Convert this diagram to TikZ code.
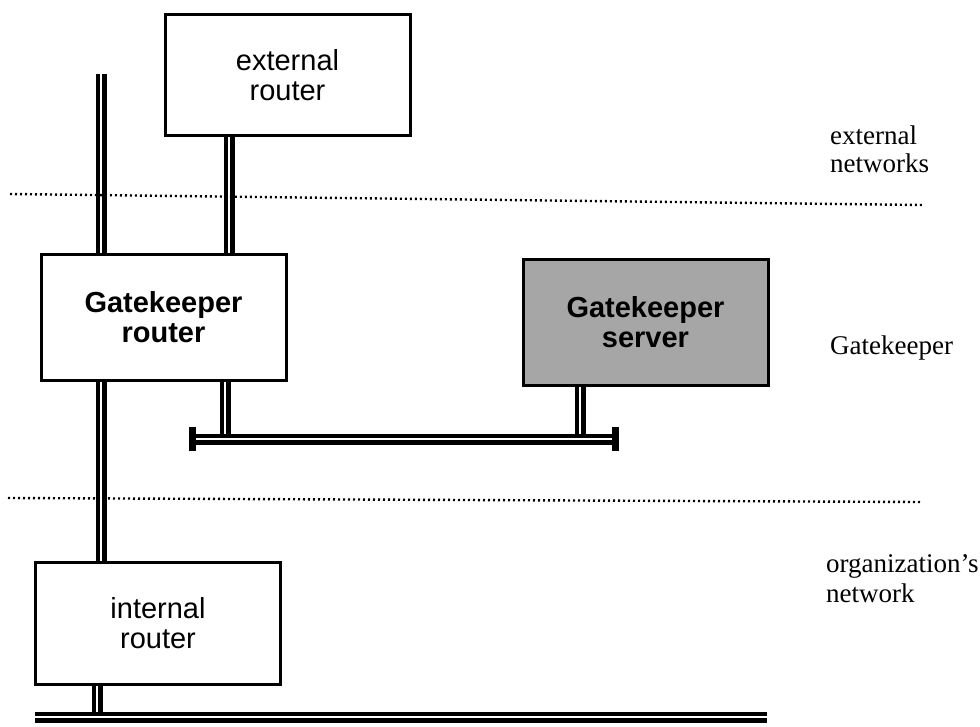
\documentclass[tikz,border=0pt]{standalone}
\usepackage{fontspec}
\setmainfont{Liberation Serif}
\setsansfont{Liberation Sans}
\begin{document}
\begin{tikzpicture}[x=1pt,y=-1pt]
    \tikzstyle{box}=[draw, line width=3pt, fill=white, shape=rectangle, minimum width=245pt, inner sep=0pt, align=center, font=\sffamily\fontsize{29}{30}\selectfont];
    \tikzstyle{cable}=[draw, line width=4.2pt, double=white, double distance=2.6pt];
    \tikzstyle{endbar}=[draw, line width=7pt];
    \tikzstyle{zone}=[draw, line width=2.4pt, dash pattern=on 2pt off 3pt];
    \tikzstyle{zonetext}=[anchor=base west, inner sep=0pt, font=\fontsize{27}{28}\selectfont];
    \useasboundingbox (0,0) rectangle (980,727);
    % boxes
    \node[box, minimum height=121pt] (ext) at (287.5,75.5) {external\\router};
    \node[box, minimum height=125pt, font=\sffamily\bfseries\fontsize{29}{30}\selectfont] (gkr) at (163.5,317.5) {Gatekeeper\\router};
    \node[box, minimum height=125pt, fill=black!35, font=\sffamily\bfseries\fontsize{29}{30}\selectfont] (gks) at (645.5,322.5) {Gatekeeper\\server};
    \node[box, minimum height=122pt] (int) at (158,623.5) {internal\\router};
    % cable points
    \coordinate (t1) at (101,74);
    \coordinate (t2) at (229,0);
    \coordinate (t3) at (225,0);
    \coordinate (t4) at (580,0);
    \coordinate (t5) at (97,0);
    \coordinate (b1) at (192,439);
    \coordinate (b2) at (615,439);
    \coordinate (b3) at (35,717);
    \coordinate (b4) at (767,717);
    % cables
    \draw[cable] (t1) -- (t1 |- gkr.north);
    \draw[cable] (t1 |- gkr.south) -- (t1 |- int.north);
    \draw[cable] (ext.south -| t2) -- (gkr.north -| t2);
    \draw[cable] (gkr.south -| t3) -- (b1 -| t3);
    \draw[cable] (gks.south -| t4) -- (b1 -| t4);
    \draw[cable] (b1) -- (b2);
    \draw[endbar] ([yshift=-12pt]b1) -- ([yshift=12pt]b1);
    \draw[endbar] ([yshift=-12pt]b2) -- ([yshift=12pt]b2);
    \draw[cable] (int.south -| t5) -- (b3 -| t5);
    \draw[cable] (b3) -- (b4);
    % zones
    \coordinate (z1) at (10,194);
    \coordinate (z2) at (922,205);
    \coordinate (z3) at (8,498);
    \coordinate (z4) at (920,502);
    \draw[zone] (z1) -- (z2);
    \draw[zone] (z3) -- (z4);
    \node[zonetext] (l1) at (830,145) {external};
    \node[zonetext] (l2) at (830,173) {networks};
    \node[zonetext] (l3) at (830,355) {Gatekeeper};
    \node[zonetext] (l4) at (826,572) {organization’s};
    \node[zonetext] (l5) at (826,602) {network};
\end{tikzpicture}
\end{document}
